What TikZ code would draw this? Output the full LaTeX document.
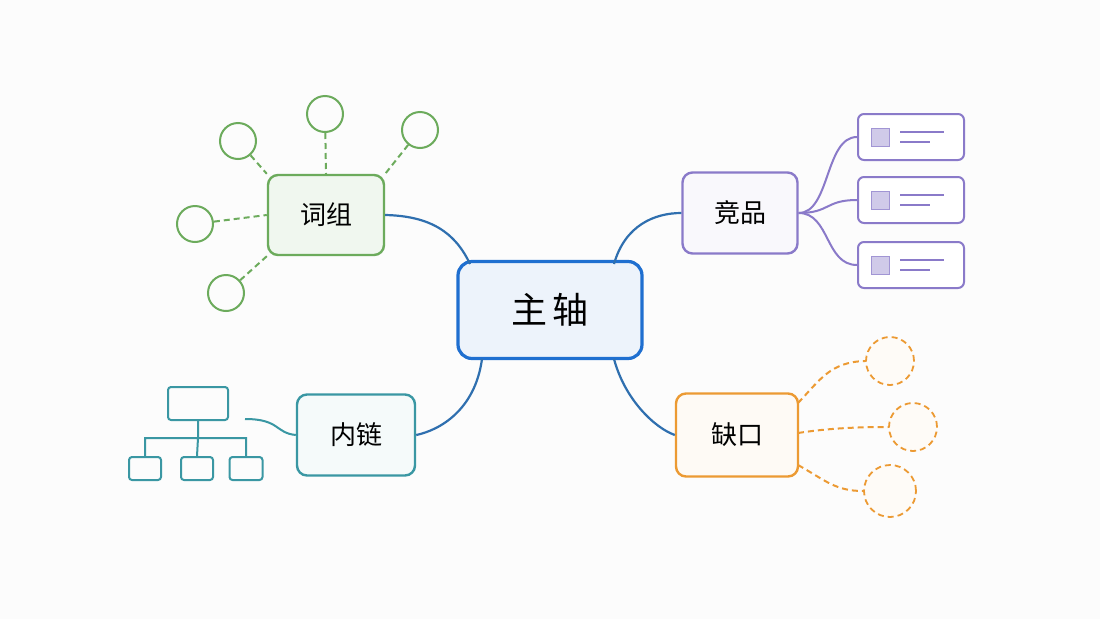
\documentclass[tikz,border=0pt]{standalone}
\usepackage{fontspec}
\setmainfont{Noto Sans CJK SC}
\begin{document}
\begin{tikzpicture}[x=1pt,y=-1pt,
  box/.style={draw,rounded corners=10pt,line width=2.4pt,inner sep=0pt,font=\fontsize{26}{28}\selectfont},
  gl/.style={draw=grn,line width=2pt,dashed,dash pattern=on 6pt off 4pt},
  gc/.style={draw=grn,line width=2pt,circle,minimum size=36pt,inner sep=0pt},
  oc/.style={draw=org,line width=1.8pt,circle,dashed,dash pattern=on 6pt off 4pt,inner sep=0pt,fill=org!4},
  card/.style={draw=pur,line width=2pt,rounded corners=6pt,minimum width=106pt,minimum height=46pt,inner sep=0pt,fill=white},
  tb/.style={draw=teal2,line width=2pt,rounded corners=3pt,inner sep=0pt},
  conn/.style={line width=2.2pt}]
\definecolor{blu}{HTML}{1F6FD0}
\definecolor{grn}{HTML}{6CAB5C}
\definecolor{teal2}{HTML}{3A97A3}
\definecolor{pur}{HTML}{8A7AC9}
\definecolor{org}{HTML}{EC9A33}
\definecolor{lnk}{HTML}{2F6FAF}
\useasboundingbox[fill=white!98!gray] (0,0) rectangle (1100,619);
% main connectors (behind boxes)
\coordinate (m1) at (470,264);
\coordinate (m2) at (482,359);
\coordinate (m3) at (614,264);
\coordinate (m4) at (614,359);
% nodes
\node[box,draw=blu,line width=3.2pt,fill=blu!8,minimum width=184pt,minimum height=97pt,rounded corners=14pt,font=\fontsize{36}{40}\selectfont] (main) at (550,310) {主\,轴};
\node[box,draw=grn,fill=grn!10,minimum width=116pt,minimum height=80pt] (cz) at (326,215) {词组};
\node[box,draw=teal2,fill=teal2!5,minimum width=118pt,minimum height=81pt] (nl) at (356,435) {内链};
\node[box,draw=pur,fill=pur!5,minimum width=115pt,minimum height=81pt] (jp) at (740,213) {竞品};
\node[box,draw=org,fill=org!5,minimum width=122pt,minimum height=83pt] (qk) at (737,435) {缺口};
\draw[conn,draw=lnk] (m1) .. controls (455,232) and (430,216) .. (cz.east);
\draw[conn,draw=lnk] (m2) .. controls (475,410) and (440,430) .. (nl.east);
\draw[conn,draw=lnk] (m3) .. controls (625,225) and (655,213) .. (jp.west);
\draw[conn,draw=lnk] (m4) .. controls (625,400) and (655,428) .. (qk.west);
% green circles
\node[gc] (g1) at (238,141) {};
\node[gc] (g2) at (325,114) {};
\node[gc] (g3) at (420,130) {};
\node[gc] (g4) at (195,224) {};
\node[gc] (g5) at (226,293) {};
\draw[gl] (g1) -- (cz.north west);
\draw[gl] (g2) -- (cz.north);
\draw[gl] (g3) -- (cz.north east);
\draw[gl] (g4) -- (cz.west);
\draw[gl] (g5) -- (cz.south west);
% purple cards
\foreach \i/\y in {1/137,2/200,3/265}{
  \node[card] (c\i) at (911,\y) {};
  \fill[pur!40] (871,\y-9) rectangle (889,\y+9);
  \draw[pur!80,line width=1pt] (871,\y-9) rectangle (889,\y+9);
  \draw[pur,line width=1.6pt] (900,\y-5) -- (944,\y-5) (900,\y+5) -- (930,\y+5);
  \draw[pur,line width=2pt] (jp.east) .. controls (830,213) and (825,\y) .. (c\i.west);
}
% orange circles
\node[oc,minimum size=48pt] (o1) at (890,361) {};
\node[oc,minimum size=48pt] (o2) at (913,427) {};
\node[oc,minimum size=52pt] (o3) at (890,491) {};
\draw[gl,draw=org] (798,403) .. controls (820,380) and (830,362) .. (o1.west);
\draw[gl,draw=org] (798,433) .. controls (830,428) and (860,427) .. (o2.west);
\draw[gl,draw=org] (798,465) .. controls (825,480) and (835,491) .. (o3.west);
% tree
\node[tb,minimum width=60pt,minimum height=33pt] (t0) at (198,403.5) {};
\node[tb,minimum width=32pt,minimum height=23pt] (t1) at (145,468.5) {};
\node[tb,minimum width=32pt,minimum height=23pt] (t2) at (197,468.5) {};
\node[tb,minimum width=33pt,minimum height=23pt] (t3) at (246,468.5) {};
\coordinate (tj) at (198,438);
\draw[teal2,line width=2pt] (t0.south) -- (tj) (t2.north) -- (tj)
  (t1.north) |- (tj) -| (t3.north);
\coordinate (tf) at (245,419);
\draw[teal2,line width=2pt] (tf) .. controls (280,419) and (275,433) .. (nl.west);
\end{tikzpicture}
\end{document}
